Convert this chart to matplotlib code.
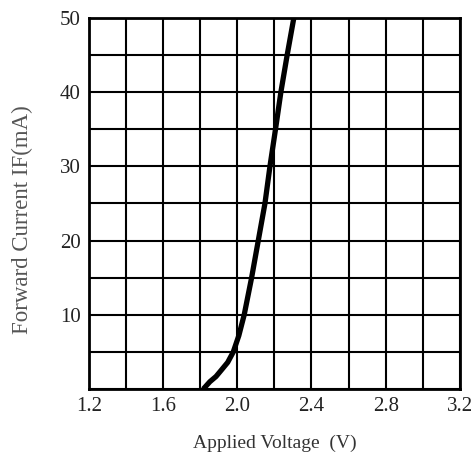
import numpy as np
import matplotlib
matplotlib.use("Agg")
import matplotlib.pyplot as plt

# I-V curve
voltage = [1.816, 1.852, 1.885, 1.915, 1.948, 1.978, 2.008, 2.037, 2.077, 2.113, 2.149, 2.176, 2.206, 2.235, 2.269, 2.305]
current = [0.0, 1.0, 1.7, 2.6, 3.6, 5.0, 7.2, 10.0, 15.0, 20.0, 25.0, 30.0, 35.0, 40.0, 45.0, 50.0]

x_ticks = [1.2, 1.6, 2.0, 2.4, 2.8, 3.2]
y_ticks = [10, 20, 30, 40, 50]

plt.rcParams['font.family'] = ['Liberation Serif', 'DejaVu Serif']

fig = plt.figure(figsize=(4.76, 4.53), dpi=100)
ax = fig.add_axes([0.187, 0.141, 0.779, 0.820])

ax.plot(voltage, current, color='black', linewidth=3.8,
        solid_capstyle='butt', solid_joinstyle='round', zorder=3)

ax.set_xlim(1.2, 3.2)
ax.set_ylim(0, 50)
ax.set_xticks(np.arange(1.2, 3.21, 0.2), minor=True)
ax.set_yticks(np.arange(0, 51, 5), minor=True)
ax.set_xticks(x_ticks)
ax.set_xticklabels([f'{v:.1f}' for v in x_ticks])
ax.set_yticks(y_ticks)
ax.grid(True, which='both', color='black', linewidth=1.5)
ax.tick_params(which='both', length=0, labelsize=15, colors='#222222')
ax.tick_params(axis='x', pad=6)
ax.tick_params(axis='y', pad=6)
for s in ax.spines.values():
    s.set_linewidth(2)

ax.set_xlabel('Applied Voltage  (V)', fontsize=14, color='#333333', labelpad=13)
ax.set_ylabel('Forward Current IF(mA)', fontsize=16.5, color='#555555')
ax.yaxis.set_label_coords(-0.152, 0.455)

plt.savefig('out.png', dpi=100)
